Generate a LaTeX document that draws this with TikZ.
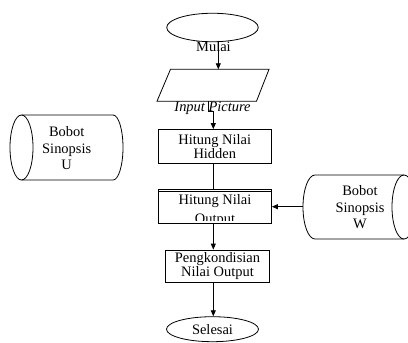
\documentclass[tikz,border=0pt]{standalone}
\usepackage{fontspec}
\setmainfont{Liberation Serif}
\usetikzlibrary{shapes.geometric,arrows.meta}
\newcommand\dfont{\fontsize{14.5}{14.3}\selectfont}
\begin{document}
\begin{tikzpicture}[x=1bp,y=-1bp,
  line width=0.8bp,
  every node/.style={font=\dfont},
  arr/.style={-{Triangle[length=6bp,width=5bp]}},
  procbox/.style={draw, rectangle, minimum width=113bp, minimum height=34bp, inner sep=0pt, align=center},
  term/.style={draw, ellipse, minimum width=91.5bp, minimum height=28.5bp, inner sep=0pt},
  storetxt/.style={align=center, inner sep=0pt, font=\fontsize{14.5}{16.5}\selectfont},
]
\clip (0,0) rectangle (408,343);
\fill[white] (0,0) rectangle (408,343);

% helper x positions
\coordinate (xa) at (218.3,0);
\coordinate (xc) at (213.3,0);

% start
\node[term] (mulai) at (212.5,27.5) {};
\node[anchor=base] (mulaitxt) at (213.5,51.7) {Mulai};

% input parallelogram
\coordinate (p1) at (170.5,69.3);
\coordinate (p2) at (269,69.3);
\coordinate (p3) at (256.5,101.2);
\coordinate (p4) at (157,101.2);
\draw (p1) -- (p2) -- (p3) -- (p4) -- cycle;
\coordinate (paratop) at (213,69.3);
\coordinate (parabot) at (208.7,101.2);
\node[anchor=base, font=\dfont\itshape] (paratxt) at (212.5,111) {Input Picture};

% processes
\node[procbox, minimum height=33.5bp] (hidden) at (214.8,146.25) {Hitung Nilai\\Hidden};

\node[procbox, minimum height=33.8bp] (output) at (215,206.4) {};
\draw ([yshift=-2bp]output.north west) -- ([yshift=-2bp]output.north east);
\begin{scope}
  \clip (158.3,192) rectangle (271.7,220.5);
  \node[align=center, inner sep=0pt] (outtxt) at (215,210.6) {Hitung Nilai\\[5.3bp]Output};
\end{scope}

\node[procbox, minimum width=104bp, minimum height=32bp, font=\fontsize{14.5}{13.3}\selectfont] (peng) at (217.5,266) {Pengkondisian\\Nilai Output};

% end
\node[term, minimum width=92bp, minimum height=25bp] (selesai) at (212.5,329.2) {Selesai};

% storage U (left)
\draw (21.5,147.5) ellipse [x radius=11.5bp, y radius=32.5bp];
\draw (21.5,115) -- (113,115) arc[start angle=90, end angle=-90, x radius=10bp, y radius=32.5bp] -- (21.5,180);
\node[storetxt] (cylutxt) at (66.7,148.2) {Bobot\\Sinopsis\\U};

% storage W (right)
\draw (404,207) ellipse [x radius=12bp, y radius=32bp];
\draw (404,175) -- (315,175) arc[start angle=90, end angle=270, x radius=12bp, y radius=32bp] -- (404,239);
\coordinate (wleft) at (303,206.7);
\node[storetxt] (cylwtxt) at (360,207.5) {Bobot\\Sinopsis\\W};

% connectors
\draw[arr] (mulai.south -| xa) -- (paratop -| xa);
\draw[arr] (parabot) -- ++(0,10.5) -| (hidden.north -| xc);
\draw (hidden.south -| xc) -- (output.north -| xc);
\draw[arr] (wleft) -- (wleft -| output.east);
\draw[arr] (output.south -| xc) -- (peng.north -| xc);
\draw[arr] (peng.south -| xc) -- (selesai.north -| xc);
\end{tikzpicture}
\end{document}
